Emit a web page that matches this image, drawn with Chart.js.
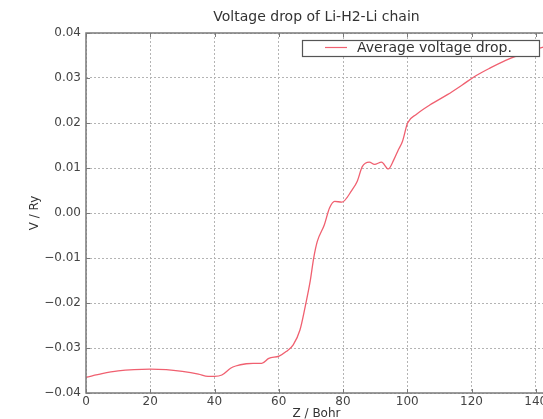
<!DOCTYPE html>
<html>
<head>
<meta charset="utf-8">
<script src="https://cdn.jsdelivr.net/npm/chart.js@4.4.0/dist/chart.umd.min.js"></script>
<style>
    html, body { margin: 0; padding: 0; background: #fff; overflow: hidden; }
    #wrap { width: 633px; height: 430px; }
</style>
</head>
<body>
<div id="wrap"><canvas id="voltage" width="633" height="430"></canvas></div>
<script>
// Z positions (Bohr) and average voltage drop (Ry)
const zBohr = [0, 5, 10, 15, 20, 25, 30, 35, 38, 40, 42.3, 45, 46.6, 49.9, 52, 54.7, 56.9,
    60.1, 62.3, 64.5, 66.6, 68.2, 69.8, 70.9, 72, 74.2, 75.8, 77.4, 79.6, 82.8, 84.4, 86,
    88.2, 89.8, 92, 94.1, 95.8, 97.2, 98.5, 100.1, 102.8, 107, 112.5, 117, 121.1, 126, 130,
    134.1, 137, 140, 143.5];
const voltageDrop = [-0.0365, -0.0357, -0.0351, -0.0348, -0.0347, -0.0348, -0.0352, -0.0358,
    -0.0363, -0.0363, -0.0360, -0.0345, -0.0340, -0.0335, -0.0334, -0.0334, -0.0323, -0.0318,
    -0.0308, -0.0293, -0.0260, -0.0209, -0.0151, -0.0099, -0.0063, -0.0026, 0.0011, 0.0026,
    0.0024, 0.0051, 0.0070, 0.0103, 0.0113, 0.0108, 0.0113, 0.0098, 0.0118, 0.0140, 0.0159,
    0.0200, 0.0219, 0.0240, 0.0263, 0.0284, 0.0304, 0.0323, 0.0337, 0.0349, 0.0357, 0.0364,
    0.0371];
const xTicks = [0, 20, 40, 60, 80, 100, 120, 140];
const yTicks = [-0.04, -0.03, -0.02, -0.01, 0.00, 0.01, 0.02, 0.03, 0.04];
const chartTitle = "Voltage drop of Li-H2-Li chain";

const lineColor = "#f06070";
const fontFamily = "'DejaVu Sans', sans-serif";

// title centred over the axes, like matplotlib does
const axesTitle = {
    id: "axesTitle",
    afterDraw(chart) {
        const { ctx, chartArea: a } = chart;
        ctx.save();
        ctx.fillStyle = "#333";
        ctx.font = "14px " + fontFamily;
        ctx.textAlign = "center";
        ctx.textBaseline = "middle";
        ctx.fillText(chartTitle, (a.left + a.right) / 2, a.top - 16);
        ctx.restore();
    },
};

// matplotlib-like frame with inward ticks on all four sides
const framePlugin = {
    id: "frame",
    afterDatasetsDraw(chart) {
        const { ctx, chartArea: a, scales } = chart;
        ctx.save();
        ctx.strokeStyle = "#7a7a7a";
        ctx.lineWidth = 1.5;
        ctx.strokeRect(a.left, a.top, a.right - a.left, a.bottom - a.top);
        ctx.lineWidth = 1;
        ctx.beginPath();
        xTicks.forEach((v) => {
            const px = Math.round(scales.x.getPixelForValue(v)) + 0.5;
            ctx.moveTo(px, a.bottom); ctx.lineTo(px, a.bottom - 4);
            ctx.moveTo(px, a.top); ctx.lineTo(px, a.top + 4);
        });
        yTicks.forEach((v) => {
            const py = Math.round(scales.y.getPixelForValue(v)) + 0.5;
            ctx.moveTo(a.left, py); ctx.lineTo(a.left + 4, py);
            ctx.moveTo(a.right, py); ctx.lineTo(a.right - 4, py);
        });
        ctx.stroke();
        ctx.restore();
    },
};

// legend box in the upper right of the axes
const legendBox = {
    id: "legendBox",
    afterDraw(chart) {
        const { ctx, chartArea: a } = chart;
        const ds = chart.data.datasets[0];
        const w = 237, h = 16;
        const x = a.right - 8 - w, y = a.top + 7;
        ctx.save();
        ctx.fillStyle = "#fff";
        ctx.fillRect(x, y, w, h);
        ctx.strokeStyle = "#555";
        ctx.lineWidth = 1.2;
        ctx.strokeRect(x + 0.5, y + 0.5, w, h);
        ctx.strokeStyle = ds.borderColor;
        ctx.lineWidth = 1.2;
        ctx.beginPath();
        ctx.moveTo(x + 23, y + 7.5);
        ctx.lineTo(x + 45, y + 7.5);
        ctx.stroke();
        ctx.fillStyle = "#333";
        ctx.font = "14px " + fontFamily;
        ctx.textBaseline = "middle";
        ctx.fillText(ds.label, x + 55, y + 8);
        ctx.restore();
    },
};

const ctx = document.getElementById("voltage");
new Chart(ctx, {
    type: "line",
    data: {
        datasets: [
            {
                label: "Average voltage drop.",
                data: zBohr.map((z, i) => ({ x: z, y: voltageDrop[i] })),
                borderColor: lineColor,
                borderWidth: 1.3,
                pointRadius: 0,
                fill: false,
                cubicInterpolationMode: "monotone",
            },
        ],
    },
    options: {
        responsive: false,
        animation: false,
        layout: { padding: { left: 0, right: 86, top: 33, bottom: 0 } },
        plugins: {
            legend: { display: false },
            tooltip: { enabled: false },
            title: { display: false },
        },
        scales: {
            x: {
                type: "linear",
                min: 0,
                max: 143.5,
                afterBuildTicks: (s) => { s.ticks = xTicks.map((v) => ({ value: v })); },
                afterFit: (s) => { s.height = 37; },
                grid: { color: "#b4b4b4", drawTicks: false },
                border: { display: false, dash: [2, 2] },
                ticks: {
                    padding: 2,
                    color: "#444",
                    font: { family: fontFamily, size: 12 },
                    maxRotation: 0,
                },
                title: {
                    display: true,
                    text: "Z / Bohr",
                    color: "#333",
                    font: { family: fontFamily, size: 12 },
                    padding: { top: 0, bottom: 8.5 },
                },
            },
            y: {
                min: -0.04,
                max: 0.04,
                afterBuildTicks: (s) => { s.ticks = yTicks.map((v) => ({ value: v })); },
                afterFit: (s) => { s.width = 86; },
                grid: { color: "#b4b4b4", drawTicks: false },
                border: { display: false, dash: [2, 2] },
                ticks: {
                    padding: 5,
                    color: "#444",
                    font: { family: fontFamily, size: 12 },
                    callback: (v) => v.toFixed(2).replace("-", "\u2212"),
                },
                title: {
                    display: true,
                    text: "V / Ry",
                    color: "#333",
                    font: { family: fontFamily, size: 12 },
                    padding: { top: 27.8, bottom: 0 },
                },
            },
        },
    },
    plugins: [framePlugin, legendBox, axesTitle],
});
</script>
</body>
</html>
